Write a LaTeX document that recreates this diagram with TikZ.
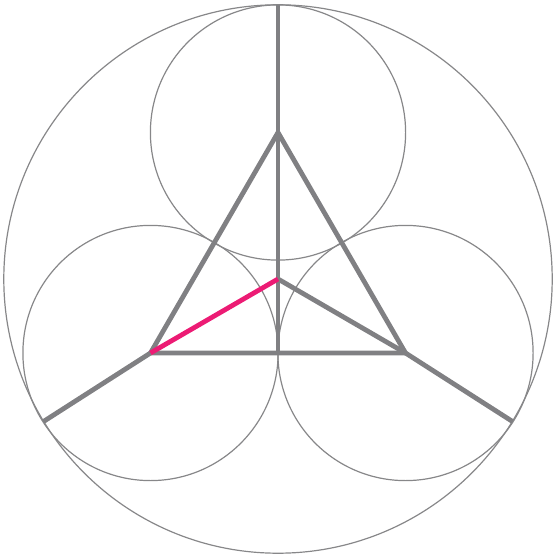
\documentclass[tikz,border=0pt]{standalone}
\definecolor{linegrey}{RGB}{128,128,131}
\definecolor{circgrey}{RGB}{135,135,137}
\definecolor{hotpink}{RGB}{236,27,116}
\tikzset{
  ring/.style={draw=circgrey, line width=1.2bp},
  spoke/.style={draw=linegrey, line width=4.8bp},
  accent/.style={draw=hotpink, line width=4.8bp}
}
\begin{document}
\begin{tikzpicture}[x=1bp,y=-1bp]
\useasboundingbox (0,0) rectangle (556,557);
\coordinate (O) at (278,279);
\coordinate (A) at (278,132.5);
\coordinate (B) at (150.5,353);
\coordinate (C) at (405.5,353);
\coordinate (M) at (278,353);
\coordinate (T) at (278,4.6);
\coordinate (L) at (43.5,421.5);
\coordinate (R) at (512.5,421.5);
% circles
\draw[ring] (O) circle [radius=274.2];
\draw[ring] (A) circle [radius=127.6];
\draw[ring] (B) circle [radius=127.6];
\draw[ring] (C) circle [radius=127.6];
% grey structure
\draw[spoke] (T) -- (M);
\draw[spoke] (A) -- (B) -- (C) -- cycle;
\draw[spoke] (B) -- (L);
\draw[spoke] (C) -- (R);
\draw[spoke] (O) -- (C);
% pink segment
\draw[accent] (B) -- (O);
\end{tikzpicture}
\end{document}
